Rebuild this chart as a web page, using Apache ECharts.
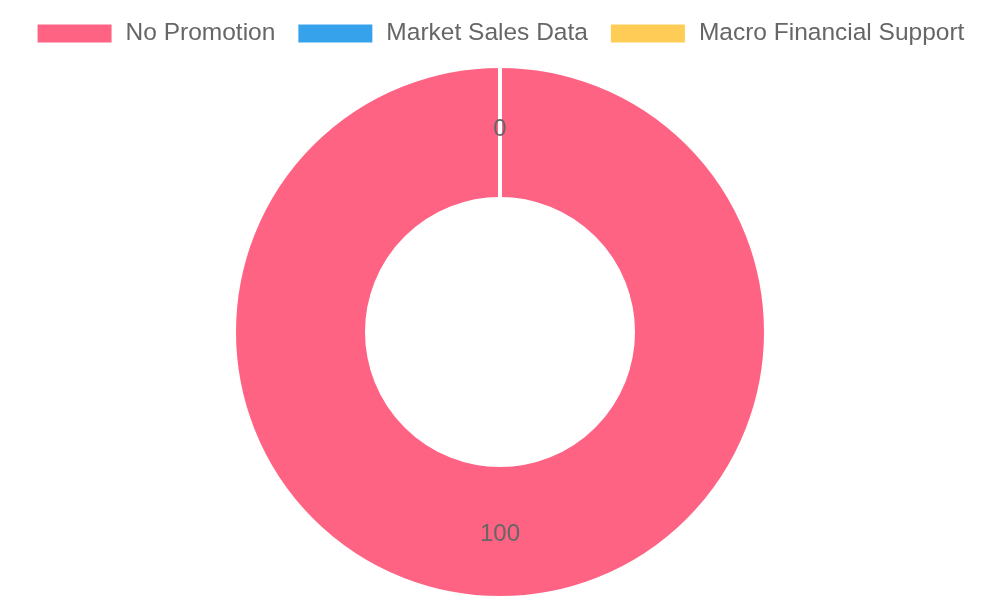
<!DOCTYPE html>
<html>
<head>
<meta charset="utf-8">
<script src="https://cdn.jsdelivr.net/npm/echarts@6/dist/echarts.min.js"></script>
<style>
    html, body { margin: 0; padding: 0; background: #fff; }
    #chart { width: 1000px; height: 600px; }
</style>
</head>
<body>
<div id="chart"></div>
<script>
var categories = ['No Promotion', 'Market Sales Data', 'Macro Financial Support'];
var values = [100, 0, 0];
var colors = ['#ff6384', '#36a2eb', '#ffcd56'];

var chart = echarts.init(document.getElementById('chart'));

var pieData = [];
for (var i = 0; i < categories.length; i++) {
    pieData.push({
        name: categories[i],
        value: values[i],
        itemStyle: { color: colors[i] }
    });
}

var option = {
    animation: false,
    textStyle: { fontFamily: 'Liberation Sans, Arial, sans-serif' },
    legend: {
        data: categories,
        left: 'center',
        top: 16,
        itemWidth: 76,
        itemHeight: 20,
        itemGap: 21,
        icon: 'rect',
        textStyle: {
            color: '#666',
            fontSize: 24.5,
            padding: [0, 0, 0, 8]
        }
    },
    series: [
        {
            type: 'pie',
            center: [500, 332],
            radius: [133, 266],
            startAngle: 90,
            clockwise: true,
            avoidLabelOverlap: false,
            itemStyle: {
                borderColor: '#fff',
                borderWidth: 4
            },
            label: {
                show: true,
                position: 'inside',
                formatter: '{c}',
                color: '#666',
                fontSize: 24
            },
            labelLine: { show: false },
            emphasis: { disabled: true },
            data: pieData
        }
    ]
};
chart.setOption(option);

window.onresize = chart.resize;
</script>
</body>
</html>
